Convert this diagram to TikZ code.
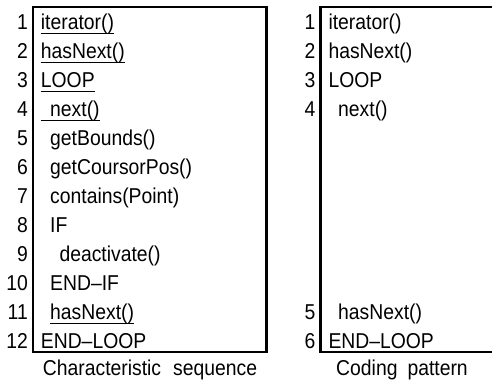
\documentclass[tikz,border=0pt]{standalone}
\usepackage{fontspec}
\setmainfont[FakeStretch=0.9]{Liberation Sans}
\begin{document}
\begin{tikzpicture}[x=1pt,y=-1pt,
  every node/.style={inner sep=0pt, font=\fontsize{21.5}{24}\selectfont},
  num/.style={anchor=base east},
  txt/.style={anchor=base west},
  captext/.style={anchor=base},
  box/.style={line width=2.7pt},
  uline/.style={line width=0.9pt}]
\useasboundingbox (0,0) rectangle (492,382);
% boxes
\draw[box] (33,7) rectangle (266.5,352);
\draw[box] (492,7) -- (320.5,7) -- (320.5,352) -- (492,352);
% left column numbers
\foreach \i in {1,...,12}{
  \node[num] (ln\i) at (28,{29.4+29*(\i-1)}) {\i};
}
% left texts
\node[txt] (l1) at (40.7,29.4) {iterator()};
\node[txt] (l2) at (40.7,58.4) {hasNext()};
\node[txt] (l3) at (40.7,87.4) {LOOP};
\node[txt] (l4) at (40.7,116.4) {\hspace{9.3pt}next()};
\node[txt] (l5) at (50,145.4) {getBounds()};
\node[txt] (l6) at (50,174.4) {getCoursorPos()};
\node[txt] (l7) at (50,203.4) {contains(Point)};
\node[txt] (l8) at (50,232.4) {IF};
\node[txt] (l9) at (59.3,261.4) {deactivate()};
\node[txt] (l10) at (50,290.4) {END–IF};
\node[txt] (l11) at (50,319.4) {hasNext()};
\node[txt] (l12) at (40.7,348.4) {END–LOOP};
% underlines
\foreach \n in {l1,l2,l3,l4,l11}{
  \draw[uline] ([yshift=-4pt]\n.base west) -- ([yshift=-4pt]\n.base east);
}
% right column
\node[num] (rn1) at (315.5,29.4) {1};
\node[num] (rn2) at (315.5,58.4) {2};
\node[num] (rn3) at (315.5,87.4) {3};
\node[num] (rn4) at (315.5,116.4) {4};
\node[num] (rn5) at (315.5,319.4) {5};
\node[num] (rn6) at (315.5,348.4) {6};
\node[txt] (r1) at (328.3,29.4) {iterator()};
\node[txt] (r2) at (328.3,58.4) {hasNext()};
\node[txt] (r3) at (328.3,87.4) {LOOP};
\node[txt] (r4) at (338,116.4) {next()};
\node[txt] (r5) at (338,319.4) {hasNext()};
\node[txt] (r6) at (328.3,348.4) {END–LOOP};
% captions
\node[captext] (c1) at (150,375) {\spaceskip=12pt Characteristic sequence};
\node[captext] (c2) at (402,375) {\spaceskip=10pt Coding pattern};
\end{tikzpicture}
\end{document}
